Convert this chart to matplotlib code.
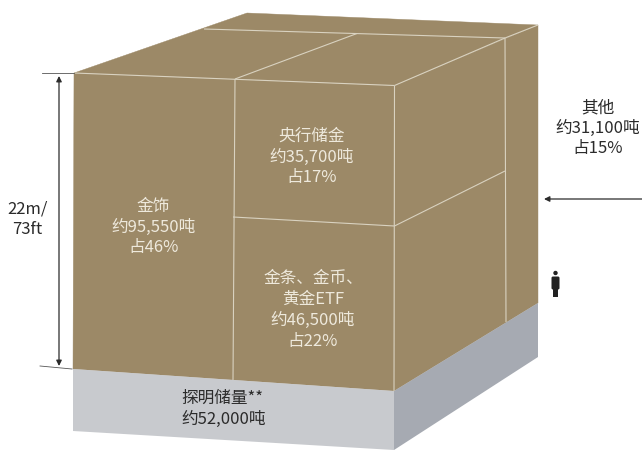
""" Above-ground gold stock drawn as a block """
import matplotlib
matplotlib.use('Agg')
import matplotlib.pyplot as plt
from matplotlib.patches import Polygon, Circle, FancyBboxPatch

plt.rcParams['font.family'] = ['Noto Sans CJK SC', 'DejaVu Sans']

# tonnes and share of the total for each part of the block
categories = ['金饰', '央行储金', '金条、金币、\n黄金ETF', '其他']
tonnes = [95550, 35700, 46500, 31100]
shares = [46, 17, 22, 15]
reserve_name = '探明储量**'
reserve_tonnes = 52000
height_label = '22m/\n73ft'

gold = '#9c8967'
grey_front = '#c8cace'
grey_side = '#a6aab2'
seam = '#d9d2c0'
ink = '#2b2b2b'

# corners of the block in pixels
front_tl, front_tr = (74, 73), (394.5, 85.5)
front_bl, front_br = (73, 369), (394, 391)
back_tl, back_tr = (247, 13), (538, 25)
side_br = (538, 303)
base_bl, base_br, base_sr = (73, 431), (394, 450), (538, 357)

# seams between the parts
seams = [
    (front_tl, front_tr),
    ((235, 79), (233, 380)),
    ((233, 217), (394.5, 226)),
    ((394.5, 226), (505, 171)),
    (front_tr, front_br),
    ((204, 29), (505, 38)),
    ((235, 79), (357, 33.5)),
    (front_tr, (505, 38)),
    ((505, 38), back_tr),
    ((505, 38), (506, 322)),
]


def label(name, t, pct):
    return f'{name}\n约{t:,}吨\n占{pct}%'


fig = plt.figure(figsize=(6.42, 4.5), dpi=100)
ax = fig.add_axes([0, 0, 1, 1])
ax.set_xlim(0, 642)
ax.set_ylim(450, 0)
ax.axis('off')

# gold faces
for pts in [(front_tl, front_tr, front_br, front_bl),
            (front_tl, back_tl, back_tr, front_tr),
            (front_tr, back_tr, side_br, front_br)]:
    ax.add_patch(Polygon(pts, closed=True, fc=gold, ec=gold, lw=0.3))

# grey base
ax.add_patch(Polygon((front_bl, front_br, base_br, base_bl), closed=True, fc=grey_front, ec='none'))
ax.add_patch(Polygon((front_br, side_br, base_sr, base_br), closed=True, fc=grey_side, ec='none'))

for a, b in seams:
    ax.plot([a[0], b[0]], [a[1], b[1]], color=seam, lw=0.8, solid_capstyle='butt')

# labels on the block
txt = dict(ha='center', va='center', color='#eee9dc', fontsize=12, linespacing=1.3, fontweight='light')
ax.text(153.5, 227, label(categories[0], tonnes[0], shares[0]), **txt)
ax.text(312, 157, label(categories[1], tonnes[1], shares[1]), **txt)
ax.text(313, 310, label(categories[2], tonnes[2], shares[2]), **txt)

side = dict(color=ink, fontsize=12, linespacing=1.25, fontweight='light')
ax.text(598, 128, label(categories[3], tonnes[3], shares[3]), ha='center', va='center', **side)
ax.text(181, 409, f'{reserve_name}\n约{reserve_tonnes:,}吨', ha='left', va='center', **side)
ax.text(27, 219, height_label, ha='center', va='center', **side)

# height marker
ax.plot([42, 74], [73, 73], color='#555555', lw=0.6)
ax.plot([40, 72], [366, 369], color='#555555', lw=0.6)
ax.annotate('', xy=(59, 366), xytext=(59, 76),
            arrowprops=dict(arrowstyle='<|-|>', color=ink, lw=0.9, shrinkA=0, shrinkB=0, mutation_scale=8))

# arrow pointing at the far side
ax.annotate('', xy=(544, 199), xytext=(642, 199),
            arrowprops=dict(arrowstyle='-|>', color=ink, lw=0.9, shrinkA=0, shrinkB=0, mutation_scale=8))

# person for scale
ax.add_patch(Circle((555.5, 273), 2.2, fc='#222222', ec='none'))
ax.add_patch(FancyBboxPatch((551.5, 276.5), 8, 13, boxstyle='round,pad=0,rounding_size=1.5', fc='#222222', ec='none'))
ax.add_patch(Polygon(((553.3, 285), (558, 285), (558, 297), (553.3, 297)), closed=True, fc='#222222', ec='none'))

fig.savefig('out.png', dpi=100)
